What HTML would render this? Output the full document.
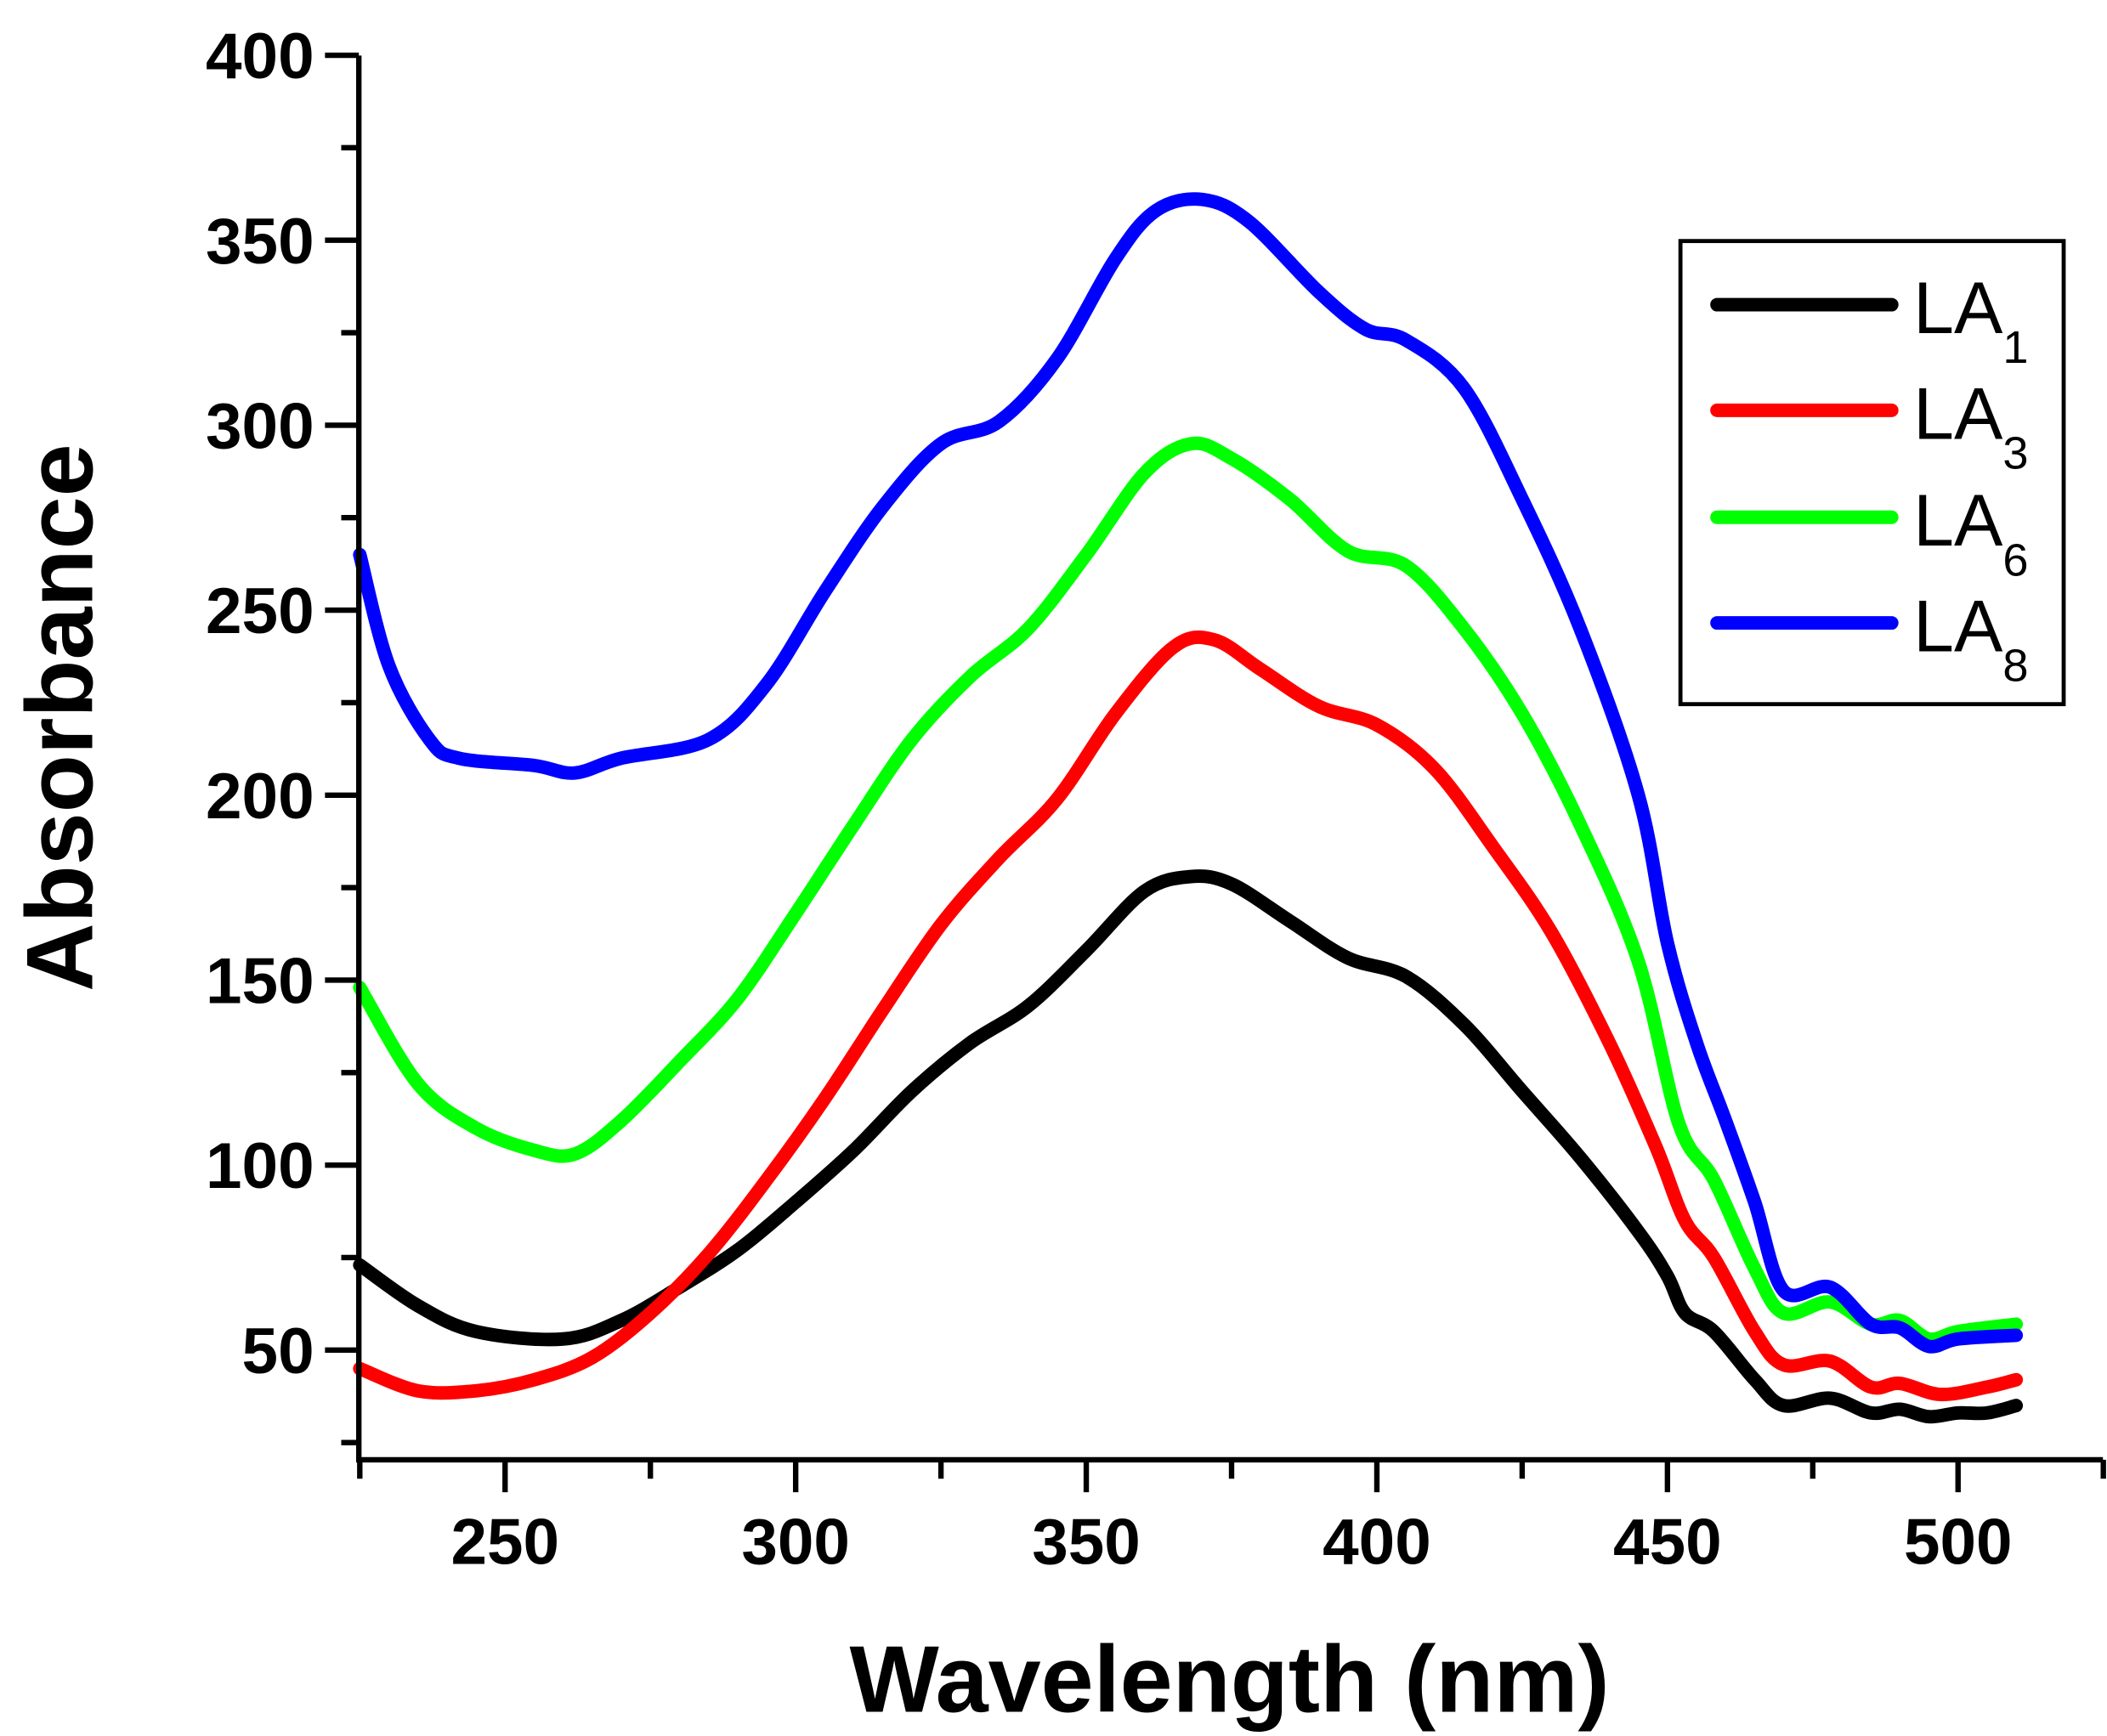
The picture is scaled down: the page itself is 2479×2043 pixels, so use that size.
<!DOCTYPE html>
<html><head><style>html,body{margin:0;padding:0;background:#fff}svg{display:block}</style></head>
<body>
<svg id="s" width="2479" height="2043" viewBox="0 0 1556 1282" preserveAspectRatio="none" xmlns="http://www.w3.org/2000/svg" font-family="Liberation Sans, Arial, sans-serif">
<rect width="1556" height="1282" fill="#fff"/>
<g id="curves" fill="none" stroke-width="10" stroke-linejoin="round" stroke-linecap="round"></g>
<g stroke="#000" stroke-width="4" fill="none">
<line x1="265" y1="41" x2="265" y2="1080"/>
<line x1="263" y1="1078" x2="1553" y2="1078"/>
</g>
<g id="ticks" stroke="#000" stroke-width="4"></g>
<g id="labels" font-weight="bold" font-size="48" fill="#000"></g>
<text x="908" y="1264" text-anchor="middle" font-weight="bold" font-size="70">Wavelength (nm)</text>
<text transform="translate(68,530) rotate(-90)" text-anchor="middle" font-weight="bold" font-size="70">Absorbance</text>
<rect x="1241" y="178" width="283" height="342" fill="none" stroke="#000" stroke-width="3"/>
<g stroke-width="10" stroke-linecap="round">
<line x1="1268" y1="225" x2="1397" y2="225" stroke="#000"/>
<line x1="1268" y1="303" x2="1397" y2="303" stroke="#f00"/>
<line x1="1268" y1="382" x2="1397" y2="382" stroke="#0f0"/>
<line x1="1268" y1="460" x2="1397" y2="460" stroke="#00f"/>
</g>
<g font-size="54" fill="#000">
<text x="1413" y="246">LA<tspan font-size="34" dy="22">1</tspan></text>
<text x="1413" y="324">LA<tspan font-size="34" dy="22">3</tspan></text>
<text x="1413" y="403">LA<tspan font-size="34" dy="22">6</tspan></text>
<text x="1413" y="481">LA<tspan font-size="34" dy="22">8</tspan></text>
</g>
</svg>
<script>
var NS="http://www.w3.org/2000/svg";
function X(w){return 373+(w-250)*4.292}
function Y(a){return 997-(a-50)*2.732}
var data={
"#000":[[225,73],[235,62],[245,55],[260,53],[270,58],[280,67],[290,77],[300,90],[310,104],[320,120],[330,133],[340,143],[350,158],[360,174],[368,178],[375,176],[385,166],[395,156],[405,151],[415,138],[425,120],[435,102],[445,82],[450,70],[453,60],[458,55],[465,42],[470,35],[478,37],[485,33],[490,34],[495,32],[500,33],[505,33],[510,35]],
"#f00":[[225,45],[235,39],[245,39],[255,42],[265,48],[275,60],[285,76],[295,96],[305,118],[315,142],[325,165],[335,183],[345,199],[355,222],[365,240],[372,242],[380,234],[390,224],[400,219],[410,207],[420,186],[430,163],[440,133],[448,105],[453,85],[458,75],[465,55],[470,46],[478,47],[485,40],[490,41],[497,38],[505,40],[510,42]],
"#0f0":[[225,148],[235,122],[245,110],[255,104],[262,103],[270,112],[280,128],[290,145],[300,168],[310,192],[320,215],[330,232],[340,245],[350,265],[360,287],[368,295],[375,291],[385,280],[395,266],[405,262],[415,245],[425,222],[435,192],[445,155],[452,111],[458,96],[465,72],[470,60],[478,63],[485,57],[490,58],[495,53],[500,55],[510,57]],
"#00f":[[225,265],[230,235],[237,215],[242,210],[255,208],[262,206],[270,210],[285,215],[295,230],[305,255],[315,278],[325,295],[335,301],[345,318],[355,345],[362,358],[370,361],[378,355],[390,336],[398,326],[405,323],[415,310],[425,280],[435,245],[445,200],[450,160],[455,133],[460,112],[465,90],[470,66],[478,67],[485,57],[490,56],[495,51],[500,53],[510,54]]};
var g=document.getElementById("curves");
function smooth(pts){var d="M"+pts[0][0].toFixed(1)+","+pts[0][1].toFixed(1);
for(var i=0;i<pts.length-1;i++){var p0=pts[Math.max(0,i-1)],p1=pts[i],p2=pts[i+1],p3=pts[Math.min(pts.length-1,i+2)];
var c1x=p1[0]+(p2[0]-p0[0])/6,c1y=p1[1]+(p2[1]-p0[1])/6,c2x=p2[0]-(p3[0]-p1[0])/6,c2y=p2[1]-(p3[1]-p1[1])/6;
d+=" C"+c1x.toFixed(1)+","+c1y.toFixed(1)+" "+c2x.toFixed(1)+","+c2y.toFixed(1)+" "+p2[0].toFixed(1)+","+p2[1].toFixed(1);}return d;}
for(var c in data){var p=document.createElementNS(NS,"path");
p.setAttribute("d",smooth(data[c].map(function(d){return [X(d[0]),Y(d[1])]})));
p.setAttribute("stroke",c);g.appendChild(p);}
var t=document.getElementById("ticks"),L=document.getElementById("labels");
function ln(a,b,c,d){var l=document.createElementNS(NS,"line");l.setAttribute("x1",a);l.setAttribute("y1",b);l.setAttribute("x2",c);l.setAttribute("y2",d);t.appendChild(l);}
function tx(x,y,s,anc){var e=document.createElementNS(NS,"text");e.setAttribute("x",x);e.setAttribute("y",y);e.setAttribute("text-anchor",anc);e.textContent=s;L.appendChild(e);}
for(var a=25;a<=400;a+=25){var y=Y(a);var maj=a%50==0;ln(265,y,maj?240:252,y);if(maj)tx(232,y+17,a,"end");}
for(var w=225;w<=525;w+=25){var x=X(w);var maj=w%50==0;ln(x,1078,x,maj?1102:1092);if(maj)tx(x,1155,w,"middle");}
</script>
</body></html>
